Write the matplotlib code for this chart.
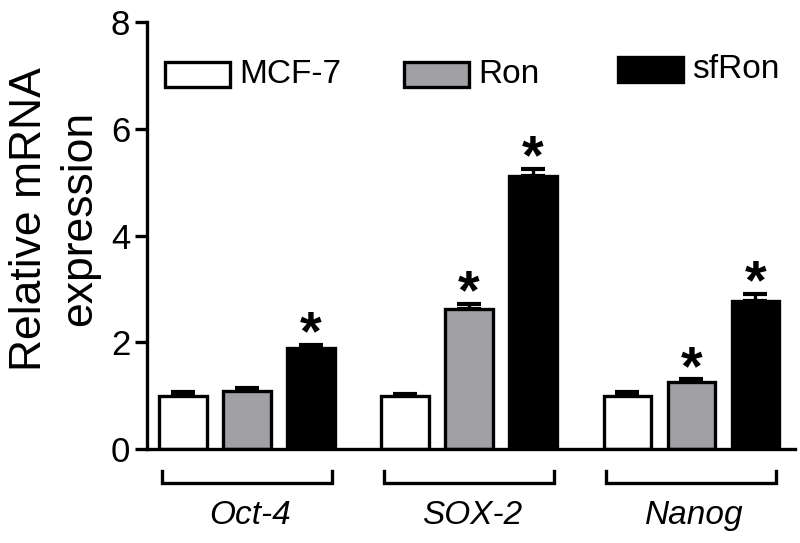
import matplotlib
matplotlib.use('Agg')
import matplotlib.pyplot as plt
from matplotlib.patches import Rectangle
import numpy as np

plt.rcParams['font.family'] = ['Liberation Sans', 'DejaVu Sans']

genes = ['Oct-4', 'SOX-2', 'Nanog']
groups = ['MCF-7', 'Ron', 'sfRon']
mcf7 = [1.0, 1.0, 1.0]
mcf7_err = [0.06, 0.04, 0.06]
ron = [1.09, 2.63, 1.26]
ron_err = [0.05, 0.09, 0.05]
sfron = [1.89, 5.12, 2.77]
sfron_err = [0.06, 0.13, 0.14]
significant = [[False, False, True], [False, True, True], [False, True, True]]

colors = ['white', '#a1a1a5', 'black']
values = [mcf7, ron, sfron]
errors = [mcf7_err, ron_err, sfron_err]

fig = plt.figure(figsize=(8, 5.43), dpi=100)
ax = fig.add_axes([0.18375, 0.1731, 0.81, 0.7855])

group_step = 3.47
width = 0.74
centers = np.arange(len(genes)) * group_step + 1

for i, (vals, errs, col) in enumerate(zip(values, errors, colors)):
    x = centers + (i - 1)
    ax.bar(x, vals, width=width, color=col, edgecolor='black', linewidth=2.4, zorder=2)
    ax.errorbar(x, vals, yerr=[np.zeros(len(vals)), errs], fmt='none', ecolor='black',
                elinewidth=2.4, capsize=8.5, capthick=3, zorder=1)
    for j in range(len(genes)):
        if significant[j][i]:
            ax.annotate('*', (x[j], vals[j] + errs[j]), xytext=(0, -12), textcoords='offset points',
                        ha='center', va='bottom', fontsize=40, fontweight='bold')

ax.set_xlim(-0.56, 9.56)
ax.set_ylim(0, 8)
ax.set_yticks([0, 2, 4, 6, 8])
ax.set_xticks([])
for s in ['top', 'right']:
    ax.spines[s].set_visible(False)
ax.spines['left'].set_linewidth(2.4)
ax.spines['bottom'].set_linewidth(2.4)
ax.tick_params(axis='y', labelsize=25, width=2.4, length=9, pad=3)
ax.set_ylabel('Relative mRNA\nexpression', fontsize=32, linespacing=1.3)
ax.yaxis.set_label_coords(-0.072, 0.54)

# brackets under each gene group
for c, g in zip(centers, genes):
    ax.plot([c - 1.33, c - 1.33, c + 1.33, c + 1.33], [-0.41, -0.63, -0.63, -0.41],
            color='black', lw=2.4, clip_on=False, solid_joinstyle='miter')
    ax.text(c + 0.05, -1.24, g, ha='center', va='center', fontsize=24, style='italic')

# legend drawn by hand, entries sit at slightly different heights
legend_pos = [(165, 62), (404, 62), (618, 57)]
for (px, py), col, name in zip(legend_pos, colors, groups):
    fig.patches.append(Rectangle((px / 800, 1 - (py + 25) / 543), 65 / 800, 25 / 543,
                                 transform=fig.transFigure, facecolor=col,
                                 edgecolor='black', linewidth=2.4))
    fig.text((px + 74) / 800, 1 - (py + 12.5) / 543, name, ha='left', va='center', fontsize=24)

fig.savefig('out.png', dpi=100)
